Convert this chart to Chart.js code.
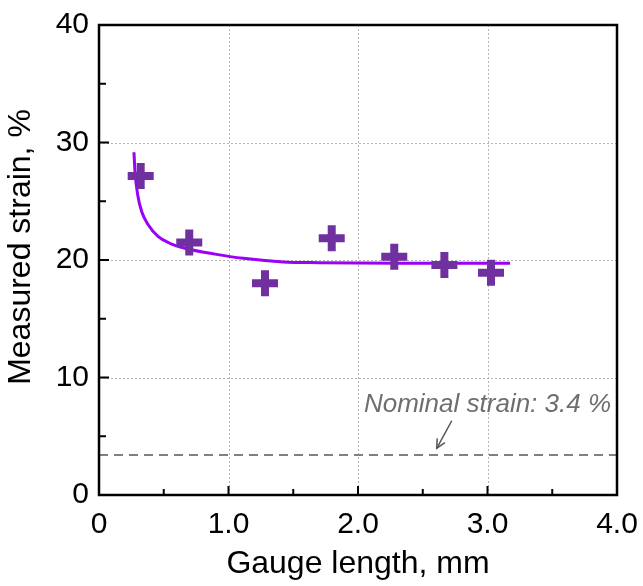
<!DOCTYPE html>
<html>
<head>
<meta charset="utf-8">
<script src="https://cdn.jsdelivr.net/npm/chart.js@4/dist/chart.umd.min.js"></script>
<style>
    html, body { margin: 0; padding: 0; background: #fff; }
    #wrap { width: 643px; height: 586px; }
</style>
</head>
<body>
<div id="wrap"><canvas id="chart"></canvas></div>
<script>
// measured points
var gauge_length = [0.322, 0.697, 1.282, 1.797, 2.28, 2.667, 3.027];
var measured_strain = [27.15, 21.5, 18.02, 21.85, 20.28, 19.57, 18.92];

// fitted curve
var fit_x = [0.27, 0.278, 0.299, 0.33, 0.381, 0.458, 0.548, 0.664, 0.896, 1.114, 1.423, 1.7, 2.0, 2.5, 3.174];
var fit_y = [29.17, 27.51, 25.53, 24.11, 22.98, 21.98, 21.42, 21.0, 20.5, 20.14, 19.84, 19.77, 19.74, 19.73, 19.72];

// nominal strain line
var nominal_x = [0, 4.0];
var nominal_y = [3.4, 3.4];

var x_ticks = [0, 1.0, 2.0, 3.0, 4.0];
var y_ticks = [0, 10, 20, 30, 40];
var x_tick_labels = ["0", "1.0", "2.0", "3.0", "4.0"];
var y_tick_labels = ["0", "10", "20", "30", "40"];

function toPoints(xs, ys) {
    var pts = [];
    for (var i = 0; i < xs.length; i++) {
        pts.push({x: xs[i], y: ys[i]});
    }
    return pts;
}

var font_family = "'Liberation Sans', Arial, sans-serif";

// box, inward ticks, dotted grid, y title, annotation
var framePlugin = {
    id: 'frame',
    beforeDatasetsDraw: function(chart) {
        var ctx = chart.ctx;
        var xs = chart.scales.x, ys = chart.scales.y;
        var a = chart.chartArea;
        ctx.save();
        ctx.strokeStyle = '#b4b4b4';
        ctx.lineWidth = 1;
        ctx.setLineDash([2, 2]);
        x_ticks.forEach(function(v) {
            var px = Math.round(xs.getPixelForValue(v)) + 0.5;
            ctx.beginPath();
            ctx.moveTo(px, a.top);
            ctx.lineTo(px, a.bottom);
            ctx.stroke();
        });
        y_ticks.forEach(function(v) {
            var py = Math.round(ys.getPixelForValue(v)) + 0.5;
            ctx.beginPath();
            ctx.moveTo(a.left, py);
            ctx.lineTo(a.right, py);
            ctx.stroke();
        });
        ctx.restore();
    },
    afterDatasetsDraw: function(chart) {
        var ctx = chart.ctx;
        var xs = chart.scales.x, ys = chart.scales.y;
        var a = chart.chartArea;
        ctx.save();
        ctx.strokeStyle = '#000';
        ctx.lineWidth = 2.5;
        ctx.strokeRect(a.left, a.top, a.right - a.left, a.bottom - a.top);
        ctx.lineWidth = 2;
        // x ticks, every 0.5
        for (var v = 0; v <= 4.0001; v += 0.5) {
            var px = xs.getPixelForValue(v);
            var len = (Math.abs(v - Math.round(v)) < 0.01) ? 9 : 6;
            ctx.beginPath();
            ctx.moveTo(px, a.bottom);
            ctx.lineTo(px, a.bottom - len);
            ctx.stroke();
        }
        // y ticks, every 5
        for (var w = 0; w <= 40; w += 5) {
            var py = ys.getPixelForValue(w);
            var len2 = (w % 10 === 0) ? 10 : 7;
            ctx.beginPath();
            ctx.moveTo(a.left, py);
            ctx.lineTo(a.left + len2, py);
            ctx.stroke();
        }

        // y axis title (sits a little above the plot centre in the original)
        ctx.save();
        ctx.fillStyle = '#000';
        ctx.font = "32px " + font_family;
        ctx.textAlign = 'center';
        ctx.textBaseline = 'middle';
        ctx.translate(21, 247);
        ctx.rotate(-Math.PI / 2);
        ctx.fillText("Measured strain, %", 0, 0);
        ctx.restore();

        // annotation
        ctx.fillStyle = '#6e6e6e';
        ctx.font = "italic 26px " + font_family;
        ctx.textAlign = 'center';
        ctx.textBaseline = 'middle';
        ctx.fillText("Nominal strain: 3.4 %", xs.getPixelForValue(3.0), ys.getPixelForValue(7.66));

        var x0 = xs.getPixelForValue(2.724), y0 = ys.getPixelForValue(6.32);
        var x1 = xs.getPixelForValue(2.608), y1 = ys.getPixelForValue(3.97);
        ctx.strokeStyle = '#555';
        ctx.lineWidth = 1.5;
        ctx.beginPath();
        ctx.moveTo(x0, y0);
        ctx.lineTo(x1, y1);
        ctx.stroke();
        var ang = Math.atan2(y1 - y0, x1 - x0);
        var head = 10;
        ctx.beginPath();
        ctx.moveTo(x1 - head * Math.cos(ang - 0.45), y1 - head * Math.sin(ang - 0.45));
        ctx.lineTo(x1, y1);
        ctx.lineTo(x1 - head * Math.cos(ang + 0.45), y1 - head * Math.sin(ang + 0.45));
        ctx.stroke();
        ctx.restore();
    }
};

var ctx = document.getElementById("chart");

var line_chart = new Chart(ctx, {
    type: 'scatter',
    data: {
        datasets: [
            {
                label: 'Nominal',
                data: toPoints(nominal_x, nominal_y),
                showLine: true,
                borderColor: '#808080',
                borderWidth: 2,
                borderDash: [9, 6],
                pointRadius: 0,
                order: 3
            },
            {
                label: 'Fit',
                data: toPoints(fit_x, fit_y),
                showLine: true,
                borderColor: '#9b00f7',
                borderWidth: 3,
                cubicInterpolationMode: 'monotone',
                pointRadius: 0,
                order: 2
            },
            {
                label: 'Measured',
                data: toPoints(gauge_length, measured_strain),
                pointStyle: 'cross',
                pointRadius: 13,
                pointBorderWidth: 8,
                borderColor: '#7030a0',
                backgroundColor: '#7030a0',
                order: 1
            }
        ]
    },
    plugins: [framePlugin],
    options: {
        responsive: true,
        maintainAspectRatio: false,
        animation: false,
        layout: {
            padding: {left: 0, right: 26, top: 25, bottom: 0}
        },
        plugins: {
            legend: {display: false},
            tooltip: {enabled: false}
        },
        scales: {
            x: {
                type: 'linear',
                min: 0,
                max: 4.0,
                afterFit: function(scale) {
                    scale.height = 91;
                    scale.paddingLeft = 0;
                    scale.paddingRight = 0;
                },
                afterBuildTicks: function(scale) {
                    scale.ticks = x_ticks.map(function(v) { return {value: v}; });
                },
                grid: {display: false, drawTicks: false},
                border: {display: false},
                ticks: {
                    color: '#000',
                    padding: 12,
                    maxRotation: 0,
                    font: {family: font_family, size: 30},
                    callback: function(value, index) { return x_tick_labels[index]; }
                },
                title: {
                    display: true,
                    text: 'Gauge length, mm',
                    color: '#000',
                    font: {family: font_family, size: 32},
                    padding: {top: 0, bottom: 3}
                }
            },
            y: {
                type: 'linear',
                min: 0,
                max: 40,
                afterFit: function(scale) {
                    scale.width = 99;
                    scale.paddingTop = 0;
                    scale.paddingBottom = 0;
                },
                afterBuildTicks: function(scale) {
                    scale.ticks = y_ticks.map(function(v) { return {value: v}; });
                },
                grid: {display: false, drawTicks: false},
                border: {display: false},
                ticks: {
                    color: '#000',
                    padding: 10,
                    font: {family: font_family, size: 30},
                    callback: function(value, index) { return y_tick_labels[index]; }
                },
                title: {display: false}
            }
        }
    }
});
</script>
</body>
</html>
